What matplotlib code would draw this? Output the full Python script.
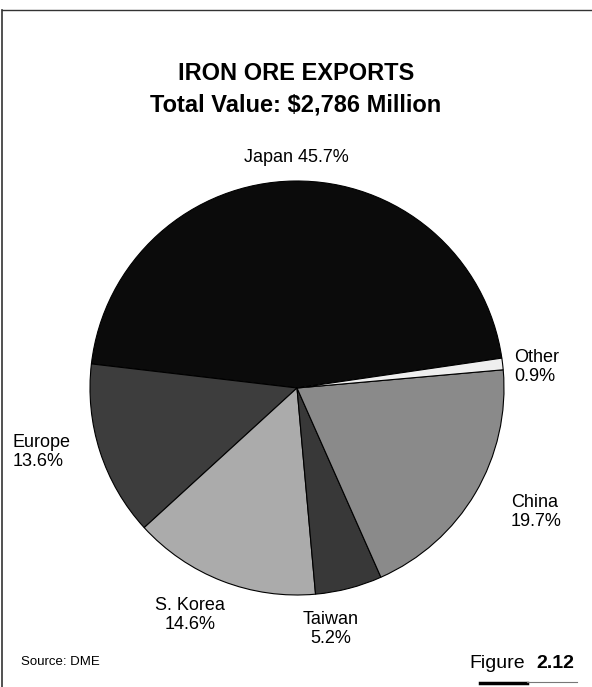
import matplotlib
matplotlib.use("Agg")
import matplotlib.pyplot as plt
from matplotlib.lines import Line2D

plt.rcParams['font.family'] = ['Liberation Sans', 'DejaVu Sans']

# Export shares by destination (percent), counter-clockwise from the right
regions = ["Japan", "Europe", "S. Korea", "Taiwan", "China", "Other"]
shares = [45.7, 13.6, 14.6, 5.2, 19.7, 0.9]
colors = ["#0b0b0b", "#3d3d3d", "#ababab", "#383838", "#8a8a8a", "#efefef"]

title_line1 = "IRON ORE EXPORTS"
title_line2 = "Total Value: $2,786 Million"
source_text = "Source: DME"

W, H = 592, 687
fig = plt.figure(figsize=(W / 100, H / 100), dpi=100)

# pie axes: centre (297, 388) px, radius ~207 px
cx, cy, r = 297, 388, 207
ax = fig.add_axes([(cx - r) / W, 1 - (cy + r) / H, 2 * r / W, 2 * r / H])
ax.pie(shares, colors=colors, startangle=8.3, counterclock=True,
       wedgeprops=dict(edgecolor="black", linewidth=0.8))
ax.set_aspect("equal")
ax.set_xlim(-1, 1)
ax.set_ylim(-1, 1)
ax.axis("off")

def px(x, y):
    return x / W, 1 - y / H

def label(i, x, y, ha, one_line=False):
    sep = " " if one_line else "\n"
    fig.text(*px(x, y), f"{regions[i]}{sep}{shares[i]}%", ha=ha, va="center",
             fontsize=13, linespacing=1.2)

label(0, 296, 158, "center", one_line=True)
label(5, 514, 367, "left")
label(1, 13, 452, "left")
label(4, 511, 512, "left")
label(2, 190, 615, "center")
label(3, 331, 629, "center")

narrow = ['Liberation Sans Narrow', 'Liberation Sans', 'DejaVu Sans']
fig.text(*px(296, 73), title_line1, ha="center", va="center",
         fontsize=17, fontweight="bold", family=narrow)
fig.text(*px(296, 105), title_line2, ha="center", va="center",
         fontsize=17, fontweight="bold", family=narrow)

fig.text(*px(21, 662), source_text, ha="left", va="center", fontsize=9.5,
         family=narrow)
fig.text(*px(525, 664), "Figure", ha="right", va="center", fontsize=14,
         family=narrow)
fig.text(*px(536, 664), "2.12", ha="left", va="center", fontsize=14,
         fontweight="bold")

# frame lines and rule under the figure number
fig.add_artist(Line2D([2 / W, 2 / W], [0, 1 - 10 / H], color="#333333",
                      lw=1.2, transform=fig.transFigure))
fig.add_artist(Line2D([2 / W, 1], [1 - 10 / H, 1 - 10 / H], color="#333333",
                      lw=1.0, transform=fig.transFigure))
fig.add_artist(Line2D([480 / W, 527 / W], [1 - 683 / H, 1 - 683 / H],
                      color="black", lw=2.5, transform=fig.transFigure))
fig.add_artist(Line2D([527 / W, 577 / W], [1 - 682 / H, 1 - 682 / H],
                      color="#777777", lw=0.8, transform=fig.transFigure))

fig.savefig("out.png", dpi=100, facecolor="white")
